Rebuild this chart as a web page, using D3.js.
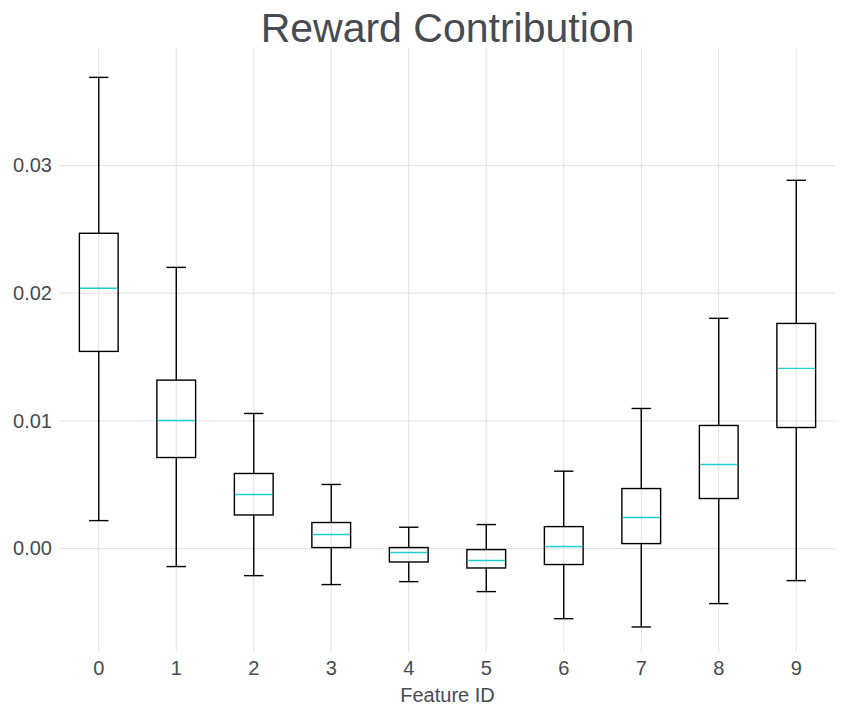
<!doctype html>
<html lang="en">
<head>
 <meta charset="utf-8">
 <script src="https://cdn.jsdelivr.net/npm/d3@7"></script>
 <title>Reward Contribution</title>
 <style>
  body { margin: 0; background: #fff; }
  text { font-family: "Liberation Sans", Arial, sans-serif; fill: #464a51; }
  .grid line { stroke: #e3e0df; stroke-width: 1; }
  .box { fill: none; stroke: #000; stroke-width: 1.4; }
  .median { stroke: #1dcfcf; stroke-width: 1.4; }
 </style>
</head>
<body>
<div id="chart"></div>
<script>
    // feature ids and box stats
    var features = ["0", "1", "2", "3", "4", "5", "6", "7", "8", "9"];
    var whiskerLow  = [0.00219, -0.00141, -0.00212, -0.00282, -0.00259, -0.00337, -0.00549, -0.00614, -0.00431, -0.00251];
    var q1          = [0.01544, 0.00713, 0.00263, 0.00008, -0.00105, -0.00152, -0.00125, 0.00039, 0.00392, 0.00948];
    var median      = [0.02038, 0.01003, 0.00423, 0.00110, -0.00031, -0.00094, 0.00016, 0.00243, 0.00658, 0.01411];
    var q3          = [0.02469, 0.01319, 0.00588, 0.00204, 0.00008, -0.00008, 0.00172, 0.00470, 0.00964, 0.01763];
    var whiskerHigh = [0.03690, 0.02202, 0.01058, 0.00502, 0.00167, 0.00188, 0.00606, 0.01097, 0.01803, 0.02884];
    var yTicks = [0.00, 0.01, 0.02, 0.03];

    var width = 845, height = 715;
    var plotLeft = 60, plotRight = 835, plotTop = 48, plotBottom = 652;

    var svg = d3.select("#chart").append("svg")
        .attr("width", width)
        .attr("height", height);

    var x = d3.scaleBand().domain(features).range([plotLeft, plotRight]).padding(0);
    var y = d3.scaleLinear().domain([-0.0081, 0.0392]).range([plotBottom, plotTop]);

    var data = features.map(function (f, i) {
        return {id: f, lo: whiskerLow[i], q1: q1[i], med: median[i], q3: q3[i], hi: whiskerHigh[i]};
    });

    // grid
    var grid = svg.append("g").attr("class", "grid");
    grid.selectAll(".hline").data(yTicks).enter().append("line")
        .attr("x1", plotLeft).attr("x2", plotRight)
        .attr("y1", function (d) { return y(d); })
        .attr("y2", function (d) { return y(d); });
    grid.selectAll(".vline").data(features).enter().append("line")
        .attr("x1", function (d) { return x(d) + x.bandwidth() / 2; })
        .attr("x2", function (d) { return x(d) + x.bandwidth() / 2; })
        .attr("y1", plotTop).attr("y2", plotBottom);

    // axes (labels only, no domain or tick marks)
    var yAxis = svg.append("g")
        .attr("transform", "translate(" + plotLeft + ",0)")
        .call(d3.axisLeft(y).tickValues(yTicks).tickFormat(d3.format(".2f")).tickSize(0).tickPadding(8));
    yAxis.select(".domain").remove();
    yAxis.selectAll("text").style("font-size", "20px").attr("fill", "#464a51");

    var xAxis = svg.append("g")
        .attr("transform", "translate(0," + plotBottom + ")")
        .call(d3.axisBottom(x).tickSize(0).tickPadding(9));
    xAxis.select(".domain").remove();
    xAxis.selectAll("text").style("font-size", "20px").attr("fill", "#464a51");

    // boxes
    var bw = x.bandwidth() * 0.5;
    var cw = x.bandwidth() * 0.25;
    var g = svg.selectAll(".boxg").data(data).enter().append("g")
        .attr("transform", function (d) { return "translate(" + (x(d.id) + x.bandwidth() / 2) + ",0)"; });

    g.append("line").attr("class", "box")
        .attr("x1", 0).attr("x2", 0)
        .attr("y1", function (d) { return y(d.hi); })
        .attr("y2", function (d) { return y(d.q3); });
    g.append("line").attr("class", "box")
        .attr("x1", 0).attr("x2", 0)
        .attr("y1", function (d) { return y(d.q1); })
        .attr("y2", function (d) { return y(d.lo); });
    g.append("line").attr("class", "box")
        .attr("x1", -cw / 2).attr("x2", cw / 2)
        .attr("y1", function (d) { return y(d.hi); })
        .attr("y2", function (d) { return y(d.hi); });
    g.append("line").attr("class", "box")
        .attr("x1", -cw / 2).attr("x2", cw / 2)
        .attr("y1", function (d) { return y(d.lo); })
        .attr("y2", function (d) { return y(d.lo); });
    g.append("rect").attr("class", "box")
        .attr("x", -bw / 2).attr("width", bw)
        .attr("y", function (d) { return y(d.q3); })
        .attr("height", function (d) { return y(d.q1) - y(d.q3); });
    g.append("line").attr("class", "median")
        .attr("x1", -bw / 2 + 0.7).attr("x2", bw / 2 - 0.7)
        .attr("y1", function (d) { return y(d.med); })
        .attr("y2", function (d) { return y(d.med); });

    // titles
    svg.append("text")
        .attr("x", (plotLeft + plotRight) / 2).attr("y", 42)
        .attr("text-anchor", "middle")
        .style("font-size", "41px")
        .text("Reward Contribution");
    svg.append("text")
        .attr("x", (plotLeft + plotRight) / 2).attr("y", 702)
        .attr("text-anchor", "middle")
        .style("font-size", "20px")
        .text("Feature ID");
</script>
</body>
</html>
